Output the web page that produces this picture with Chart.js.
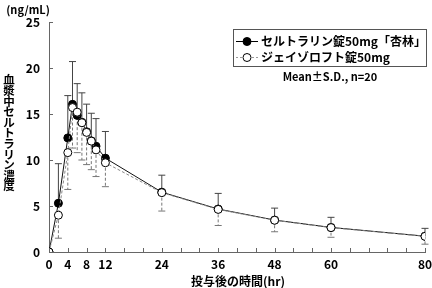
<!DOCTYPE html>
<html>
<head>
<meta charset="utf-8">
<script src="https://cdn.jsdelivr.net/npm/chart.js@4/dist/chart.umd.min.js"></script>
<style>
  body { margin: 0; background: #fff; }
  #wrap { width: 432px; height: 288px; position: relative; }
</style>
</head>
<body>
<div id="wrap"><canvas id="chart"></canvas></div>
<script>
// sampling times (hr)
const times = [0, 2, 4, 5, 6, 7, 8, 9, 10, 12, 24, 36, 48, 60, 80];
// セルトラリン錠50mg「杏林」 mean and SD
const testMean = [0, 5.3, 12.4, 16.05, 14.85, 14.1, 13.07, 12.08, 11.5, 10.2, 6.5, 4.67, 3.47, 2.67, 1.72];
const testSD = [0, 4.3, 4.6, 4.65, 3.45, 3.2, 3.0, 3.0, 3.0, 2.9, 1.85, 1.7, 1.3, 1.1, 0.85];
// ジェイゾロフト錠50mg mean and SD
const refMean = [0, 4.0, 10.8, 15.7, 15.2, 14.05, 13.0, 12.05, 11.1, 9.7, 6.45, 4.63, 3.45, 2.65, 1.7];
const refSD = [0, 2.5, 4.0, 4.4, 4.4, 4.05, 3.5, 3.1, 2.9, 2.6, 2.0, 1.75, 1.25, 1.05, 0.85];

const xTickLabels = [0, 4, 8, 12, 24, 36, 48, 60, 80];
const testName = 'セルトラリン錠50mg「杏林」';
const refName = 'ジェイゾロフト錠50mg';
const noteText = 'Mean±S.D., n=20';
const yUnit = '(ng/mL)';
const yTitle = '血漿中セルトラリン濃度';
const xTitle = '投与後の時間(hr)';

const jpFont = '"Noto Sans CJK JP", "Noto Sans", sans-serif';

function toPoints(means) {
    return times.map(function (t, i) { return { x: t, y: means[i] }; });
}

const errorBars = {
    id: 'errorBars',
    beforeDatasetsDraw(chart) {
        const ctx = chart.ctx;
        const xs = chart.scales.x;
        const ys = chart.scales.y;
        ctx.save();
        ctx.lineWidth = 1;
        // test: upper bars, solid
        ctx.strokeStyle = '#444';
        ctx.setLineDash([]);
        times.forEach(function (t, i) {
            if (!testSD[i]) return;
            const px = xs.getPixelForValue(t);
            const y0 = ys.getPixelForValue(testMean[i]);
            const y1 = ys.getPixelForValue(testMean[i] + testSD[i]);
            ctx.beginPath();
            ctx.moveTo(px, y0); ctx.lineTo(px, y1);
            ctx.moveTo(px - 3.5, y1); ctx.lineTo(px + 3.5, y1);
            ctx.stroke();
        });
        // reference: lower bars, dashed
        ctx.strokeStyle = '#777';
        times.forEach(function (t, i) {
            if (!refSD[i]) return;
            const px = xs.getPixelForValue(t);
            const y0 = ys.getPixelForValue(refMean[i]);
            const y1 = ys.getPixelForValue(refMean[i] - refSD[i]);
            ctx.setLineDash([3, 2]);
            ctx.beginPath();
            ctx.moveTo(px, y0); ctx.lineTo(px, y1);
            ctx.stroke();
            ctx.setLineDash([]);
            ctx.beginPath();
            ctx.moveTo(px - 3.5, y1); ctx.lineTo(px + 3.5, y1);
            ctx.stroke();
        });
        ctx.restore();
    }
};

const decorations = {
    id: 'decorations',
    afterDraw(chart) {
        const ctx = chart.ctx;
        const xs = chart.scales.x;
        const ys = chart.scales.y;
        const area = chart.chartArea;
        ctx.save();
        // inside ticks
        ctx.strokeStyle = '#666';
        ctx.lineWidth = 1;
        ctx.beginPath();
        xs.ticks.forEach(function (tk) {
            const px = Math.round(xs.getPixelForValue(tk.value)) + 0.5;
            ctx.moveTo(px, area.bottom); ctx.lineTo(px, area.bottom - 4);
        });
        ys.ticks.forEach(function (tk) {
            const py = Math.round(ys.getPixelForValue(tk.value)) + 0.5;
            ctx.moveTo(area.left, py); ctx.lineTo(area.left + 4, py);
        });
        ctx.stroke();

        ctx.fillStyle = '#000';
        // unit
        ctx.font = 'bold 11px ' + jpFont;
        ctx.textAlign = 'center';
        ctx.textBaseline = 'middle';
        ctx.fillText(yUnit, 28, 10);
        // vertical y title
        ctx.font = 'bold 11.5px ' + jpFont;
        Array.from(yTitle).forEach(function (ch, i) {
            ctx.fillText(ch, 9, 80 + i * 10.6);
        });
        // x title
        ctx.font = 'bold 12px ' + jpFont;
        ctx.fillText(xTitle, 238, 281);

        // legend box
        ctx.strokeStyle = '#555';
        ctx.strokeRect(233.5, 29.5, 193, 37);
        const rows = [
            { name: testName, y: 41, fill: '#000', line: '#000', dash: [] },
            { name: refName, y: 57, fill: '#fff', line: '#999', dash: [2, 2] }
        ];
        rows.forEach(function (r) {
            ctx.strokeStyle = r.line;
            ctx.setLineDash(r.dash);
            ctx.beginPath();
            ctx.moveTo(236, r.y + 0.5); ctx.lineTo(258, r.y + 0.5);
            ctx.stroke();
            ctx.setLineDash([]);
            ctx.beginPath();
            ctx.arc(247, r.y + 0.5, 4, 0, Math.PI * 2);
            ctx.fillStyle = r.fill;
            ctx.fill();
            ctx.strokeStyle = '#000';
            ctx.stroke();
            ctx.fillStyle = '#000';
            ctx.font = 'bold 12px ' + jpFont;
            ctx.textAlign = 'left';
            ctx.fillText(r.name, 261, r.y + 0.5);
        });
        ctx.textAlign = 'center';
        ctx.font = 'bold 11px ' + jpFont;
        ctx.fillText(noteText, 330, 77);
        ctx.restore();
    }
};

new Chart(document.getElementById('chart'), {
    type: 'line',
    data: {
        datasets: [{
            label: refName,
            data: toPoints(refMean),
            borderColor: '#888',
            borderWidth: 1,
            borderDash: [3, 2],
            pointRadius: 4,
            pointBackgroundColor: '#fff',
            pointBorderColor: '#000',
            pointBorderWidth: 1,
            tension: 0,
            order: 1
        }, {
            label: testName,
            data: toPoints(testMean),
            borderColor: '#111',
            borderWidth: 1,
            pointRadius: 4,
            pointBackgroundColor: '#000',
            pointBorderColor: '#000',
            pointBorderWidth: 1,
            tension: 0,
            order: 2
        }]
    },
    options: {
        responsive: true,
        maintainAspectRatio: false,
        animation: false,
        layout: { padding: { top: 22, right: 0, left: 0, bottom: 0 } },
        plugins: {
            legend: { display: false },
            tooltip: { enabled: false }
        },
        scales: {
            x: {
                type: 'linear',
                min: 0,
                max: 80,
                afterFit: function (scale) {
                    scale.height = 36;
                    scale.paddingLeft = 0;
                    scale.paddingRight = 7;
                },
                grid: { display: true, drawOnChartArea: false, drawTicks: false },
                border: { color: '#666' },
                ticks: {
                    stepSize: 4,
                    autoSkip: false,
                    maxRotation: 0,
                    padding: 5,
                    color: '#000',
                    font: { family: jpFont, size: 12, weight: 'bold' },
                    callback: function (v) { return xTickLabels.includes(v) ? String(v) : ''; }
                }
            },
            y: {
                min: 0,
                max: 25,
                afterFit: function (scale) { scale.width = 49; },
                grid: { display: true, drawOnChartArea: false, drawTicks: false },
                border: { color: '#666' },
                ticks: {
                    stepSize: 5,
                    padding: 9,
                    color: '#000',
                    font: { family: jpFont, size: 12, weight: 'bold' }
                }
            }
        }
    },
    plugins: [errorBars, decorations]
});
</script>
</body>
</html>
